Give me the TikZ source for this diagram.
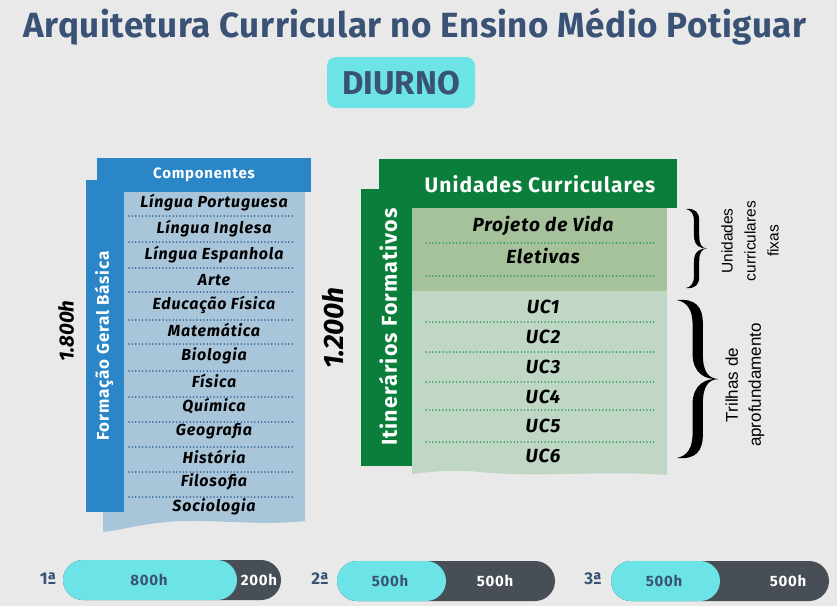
\documentclass[tikz,border=0pt]{standalone}
\usepackage{fontspec}
\setmainfont{Fira Sans}
\newfontfamily\arialf{Liberation Sans}
\newfontfamily\spacedf[LetterSpace=5]{Fira Sans}
\newfontfamily\titlef[LetterSpace=1.5]{Fira Sans}
\usetikzlibrary{calc}
\definecolor{bgc}{HTML}{E9E9E9}
\definecolor{titleblue}{HTML}{3A5276}
\definecolor{cyanc}{HTML}{6BE3E7}
\definecolor{blueh}{HTML}{2A86C6}
\definecolor{lightblue}{HTML}{A9C5DA}
\definecolor{dotblue}{HTML}{2A5E92}
\definecolor{greenh}{HTML}{0B7E3B}
\definecolor{sage}{HTML}{A6C29A}
\definecolor{lightgreen}{HTML}{C1D7C6}
\definecolor{dotgreen}{HTML}{1E9A4B}
\definecolor{darkpill}{HTML}{474E56}
\tikzset{
  item/.style={font=\spacedf\fontsize{16}{16}\selectfont\bfseries\itshape, text=black, inner sep=0pt},
  uitem/.style={font=\spacedf\fontsize{19}{19}\selectfont\bfseries\itshape, text=black, inner sep=0pt},
  dotline/.style={line width=1.7pt, line cap=round, dash pattern=on 0pt off 3.4pt},
  pilltext/.style={font=\spacedf\fontsize{15}{15}\selectfont\bfseries, inner sep=0pt},
  ordtext/.style={font=\fontsize{17}{17}\selectfont\bfseries, text=titleblue, inner sep=0pt},
  sidetext/.style={font=\arialf\fontsize{#1}{23}\selectfont, align=center, rotate=90, inner sep=0pt},
  whitehead/.style={font=\spacedf\fontsize{#1}{#1}\selectfont\bfseries, text=white, inner sep=0pt},
}
% right-pointing brace in a unit box: x 0..1, y 0..2 (tip at (1,1))
\newcommand\rbraceshape{%
  \fill (0,0) .. controls (0.45,-0.02) and (0.63,0.08) .. (0.63,0.3) -- (0.63,0.68)
        .. controls (0.63,0.9) and (0.75,0.99) .. (1,1)
        .. controls (0.72,1.01) and (0.38,0.94) .. (0.38,0.68) -- (0.38,0.32)
        .. controls (0.38,0.12) and (0.25,0.03) .. (0,0) -- cycle;
  \fill (0,2) .. controls (0.45,2.02) and (0.63,1.92) .. (0.63,1.7) -- (0.63,1.32)
        .. controls (0.63,1.1) and (0.75,1.01) .. (1,1)
        .. controls (0.72,0.99) and (0.38,1.06) .. (0.38,1.32) -- (0.38,1.68)
        .. controls (0.38,1.88) and (0.25,1.97) .. (0,2) -- cycle;}
\begin{document}
\begin{tikzpicture}[x=1pt,y=-1pt]
\fill[bgc] (0,0) rectangle (837,606);
\useasboundingbox (0,0) rectangle (837,606);

% title
\node[font=\titlef\fontsize{35}{38}\selectfont\bfseries, text=titleblue, inner sep=0pt] (title) at (415,27) {Arquitetura Curricular no Ensino Médio Potiguar};
\fill[cyanc, rounded corners=9pt] (327,57) rectangle (475,108);
\node[font=\fontsize{33}{34}\selectfont\bfseries, text=titleblue, inner sep=0pt] (diurno) at (401,83) {DIURNO};

% left block
\fill[lightblue] (103,191) -- (305,191) -- (305,521) .. controls (250,527) and (200,516) .. (150,524) .. controls (130,527) and (115,531) .. (103,532) -- cycle;
\fill[blueh] (97,158) rectangle (311,192);
\fill[blueh] (86,180) rectangle (124,512);
\node[whitehead=15] (comp) at (204,175) {Componentes};
\node[whitehead=17, rotate=90] (fgb) at (104,346) {Formação Geral Básica};
\node[font=\fontsize{20.5}{20.5}\selectfont\bfseries\itshape, rotate=90, inner sep=0pt] (h1800) at (66,331) {1.800h};

\foreach \t/\y [count=\i] in {Língua Portuguesa/203, Língua Inglesa/229, Língua Espanhola/255, Arte/280, Educação Física/305, Matemática/330, Biologia/356, Física/381, Química/406, Geografia/431, História/457, Filosofia/482, Sociologia/507}
  \node[item] (l\i) at (214,\y) {\t};
\foreach \y in {216,242,268,292,320,344,371,397,422,447,472,497}
  \draw[dotline, dotblue] (129,\y) -- (293,\y);

% right block
\fill[lightgreen] (412,290) -- (667,290) -- (667,475) .. controls (600,470) and (540,478) .. (480,472) .. controls (450,469) and (430,472) .. (412,474) -- cycle;
\fill[sage] (412,208) rectangle (667,291);
\fill[greenh] (379,159) rectangle (677,208);
\fill[greenh] (361,189) rectangle (412,466);
\node[whitehead=21] (uc) at (540,184) {Unidades Curriculares};
\node[whitehead=21.5, rotate=90] (itf) at (388,327) {Itinerários Formativos};
\node[font=\fontsize{28}{28}\selectfont\bfseries\itshape, rotate=90, inner sep=0pt] (h1200) at (333,328) {1.200h};

\foreach \t/\y [count=\i] in {Projeto de Vida/226, Eletivas/256}
  \node[uitem] (r\i) at (543,\y) {\t};
\foreach \t/\y [count=\i] in {UC1/307, UC2/337, UC3/367, UC4/397, UC5/426, UC6/456}
  \node[uitem] (u\i) at (543,\y) {\t};
\foreach \y in {243,276,322,352,382,410,442}
  \draw[dotline, dotgreen] (426,\y) -- (657,\y);

% braces
\begin{scope}[shift={(686,209)}, x=21pt, y=-39.5pt]
  \rbraceshape
\end{scope}
\begin{scope}[shift={(677,300)}, x=41pt, y=-79pt]
  \rbraceshape
\end{scope}
\node[sidetext=15.5] (ucf) at (750,241) {Unidades\\curriculares\\fixas};
\node[sidetext=17] (tda) at (745,385) {Trilhas de\\aprofundamento};

% pills
\node[ordtext] (o1) at (48,579) {1ª};
\fill[darkpill, rounded corners=20pt] (63,560) rectangle (281,600);
\fill[cyanc, rounded corners=20pt] (63,560) rectangle (237,600);
\node[pilltext, text=titleblue] (p1a) at (149,580) {800h};
\node[pilltext, text=white] (p1b) at (259,580) {200h};

\node[ordtext] (o2) at (320,579) {2ª};
\fill[darkpill, rounded corners=20pt] (337,561) rectangle (555,601);
\fill[cyanc, rounded corners=20pt] (337,561) rectangle (446,601);
\node[pilltext, text=titleblue] (p2a) at (390,581) {500h};
\node[pilltext, text=white] (p2b) at (495,581) {500h};

\node[ordtext] (o3) at (593,579) {3ª};
\fill[darkpill, rounded corners=20pt] (611,561) rectangle (829,601);
\fill[cyanc, rounded corners=20pt] (611,561) rectangle (720,601);
\node[pilltext, text=titleblue] (p3a) at (664,581) {500h};
\node[pilltext, text=white] (p3b) at (788,581) {500h};
\end{tikzpicture}
\end{document}
